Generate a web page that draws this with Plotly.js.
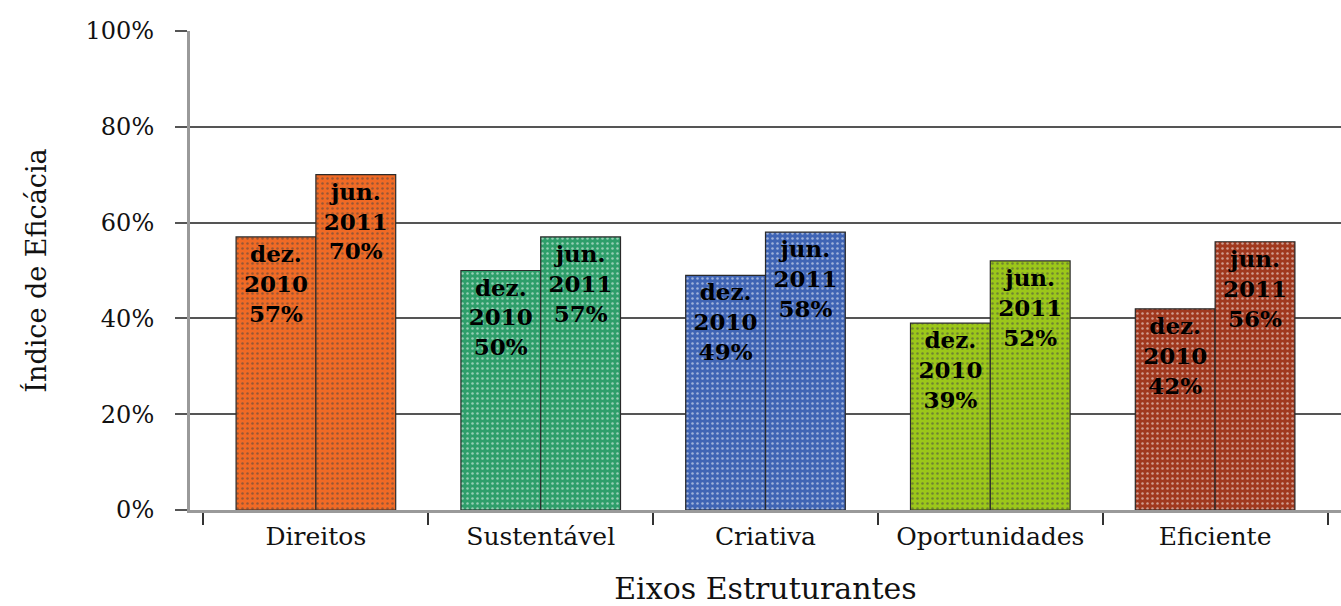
<!DOCTYPE html>
<html>
<head>
<meta charset="utf-8">
<script src="https://cdn.plot.ly/plotly-3.0.1.min.js"></script>
<style>
  html, body { margin: 0; padding: 0; background: #ffffff; }
  #chart { width: 1341px; height: 606px; }
</style>
</head>
<body>
<div id="chart"></div>
<script>
// ---- data ----
const categories = ["Direitos", "Sustentável", "Criativa", "Oportunidades", "Eficiente"];
const dez2010 = [57, 50, 49, 39, 42];
const jun2011 = [70, 57, 58, 52, 56];
const periodDez = "dez.<br>2010";
const periodJun = "jun.<br>2011";
const barColors = ["#F06A25", "#2E9E6A", "#3F64B4", "#9CC71A", "#A0381E"];
const dotColors = ["#F7864A", "#48B07F", "#5877C2", "#B0D63E", "#B44E33"];
const yTicks = [0, 20, 40, 60, 80, 100];

const serif = "DejaVu Serif, serif";

function makeTrace(values, period, name) {
  return {
    type: "bar",
    name: name,
    x: categories,
    y: values,
    text: values.map(v => period + "<br>" + v + "%"),
    textposition: "inside",
    insidetextanchor: "end",
    textangle: 0,
    constraintext: "none",
    insidetextfont: { family: serif, size: 23, color: "#000000", weight: "bold" },
    hoverinfo: "skip",
    marker: {
      color: barColors,
      line: { color: "#2a2a2a", width: 1.2 },
      pattern: { shape: ".", fillmode: "overlay", fgcolor: dotColors, size: 5, solidity: 0.2 }
    }
  };
}

const data = [
  makeTrace(dez2010, periodDez, "dez. 2010"),
  makeTrace(jun2011, periodJun, "jun. 2011")
];

const layout = {
  width: 1341,
  height: 606,
  margin: { l: 190, r: 0, t: 31, b: 96 },
  paper_bgcolor: "#ffffff",
  plot_bgcolor: "#ffffff",
  showlegend: false,
  barmode: "group",
  bargap: 0.29,
  bargroupgap: 0,
  font: { family: serif, color: "#111111" },
  xaxis: {
    type: "category",
    range: [-0.56, 4.56],
    tickson: "boundaries",
    ticks: "outside",
    ticklen: 12,
    tickwidth: 2,
    tickcolor: "#333333",
    tickfont: { family: serif, size: 25, color: "#111111" },
    ticklabelstandoff: 2,
    showline: true,
    linecolor: "#9a9a9a",
    linewidth: 3,
    showgrid: false,
    zeroline: false,
    title: { text: "Eixos Estruturantes", font: { family: serif, size: 30, color: "#111111" }, standoff: 30 }
  },
  yaxis: {
    range: [0, 100],
    tickvals: yTicks,
    ticktext: yTicks.map(v => v + "%"),
    ticks: "outside",
    ticklen: 12,
    tickwidth: 2,
    tickcolor: "#555555",
    tickfont: { family: serif, size: 24, color: "#111111" },
    ticklabelstandoff: 16,
    showline: true,
    linecolor: "#9a9a9a",
    linewidth: 3,
    showgrid: true,
    gridcolor: "#555555",
    gridwidth: 2,
    zeroline: false,
    title: { text: "Índice de Eficácia", font: { family: serif, size: 27, color: "#111111" }, standoff: 32 }
  }
};

Plotly.newPlot("chart", data, layout, { displayModeBar: false, staticPlot: true });
</script>
</body>
</html>
